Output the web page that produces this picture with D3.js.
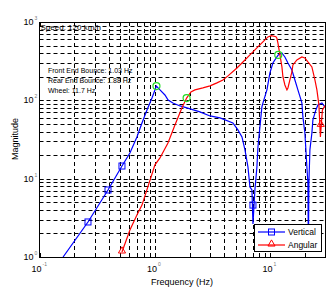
<!DOCTYPE html>
<html>
<head>
<meta charset="utf-8">
<script src="https://cdn.jsdelivr.net/npm/d3@7"></script>
<style>
  body { margin: 0; background: #fff; }
  text { font-family: "Liberation Sans", Arial, sans-serif; }
</style>
</head>
<body>
<div id="chart"></div>
<script>
// vertical response (Hz, magnitude)
const vertFreq = [0.16, 0.263, 0.392, 0.518, 0.607, 0.698, 0.772, 0.853, 0.942, 1.03, 1.105, 1.22, 1.30, 1.43, 1.65, 1.89,
  2.45, 3.0, 3.66, 4.73, 5.23, 5.67, 6.02, 6.39, 6.65, 6.92, 7.06, 7.34, 7.64, 7.80, 8.11, 8.44, 8.61,
  9.33, 9.90, 10.51, 11.38, 11.7, 12.58, 13.35, 14.18, 15.35, 16.30, 17.30, 18.73, 19.11, 19.89, 20.70,
  21.12, 21.33, 21.54, 21.98, 22.87, 23.33, 24.77, 25.78, 27.92, 29.64, 30];
const vertMag = [1.0, 2.8, 7.17, 14.5, 21.3, 34.1, 51.4, 75.4, 107, 152, 136, 117, 101, 92.6, 84.8, 80,
  71.1, 63.2, 59.6, 51.4, 41.9, 34.1, 23.3, 14.1, 7.83, 7.17, 2.64, 7.17, 14.1, 25.4, 45.7, 82.4, 92,
  136, 224, 300, 358, 380, 403, 358, 300, 244, 182, 136, 92.6, 61.4, 38.3, 14.1,
  8.81, 1.2, 8.81, 23.3, 38.3, 56.2, 75.4, 87.4, 92.6, 82.4, 80];

// angular response
const angFreq = [0.518, 0.607, 0.698, 0.772, 1.0, 1.105, 1.296, 1.49, 1.71, 1.88, 2.05, 2.22, 2.60, 3.0, 3.44, 3.88,
  4.29, 5.13, 5.78, 6.65, 7.64, 8.61, 9.52, 10.2, 11.16, 11.38, 11.61, 12.09, 12.58, 12.83, 13.35, 13.90,
  14.18, 14.75, 15.35, 15.66, 16.96, 18.73, 19.89, 21.12, 22.87, 24.29, 25.27, 26.3, 27.1, 28.2, 29.64, 30];
const angMag = [1.16, 2.21, 3.44, 4.6, 15.0, 18.4, 28.6, 48.5, 80, 107, 128, 136, 144, 153, 167, 182,
  205, 259, 309, 380, 467, 557, 645, 670, 650, 620, 540, 380, 267, 200, 157, 136,
  144, 182, 230, 283, 328, 358, 348, 309, 267, 182, 136, 87.4, 34.1, 75.4, 85, 86];

// marker points
const vertMarkFreq = [0.263, 0.392, 0.518, 7.06];
const vertMarkMag = [2.8, 7.17, 14.5, 4.6];
const angMarkFreq = [0.518, 27.3];
const angMarkMag = [1.16, 48];

// resonance points (green circles)
const peakFreq = [1.03, 1.88, 11.7];
const peakMag = [152, 107, 380];

const notes = ["Front End Bounce: 1.03 Hz", "Rear End Bounce: 1.88 Hz", "Wheel: 11.7 Hz"];
const speedLabel = "Speed: 120 km/h";
const xTickExp = [-1, 0, 1];
const yTickExp = [0, 1, 2, 3];
const seriesNames = ["Vertical", "Angular"];

const width = 330, height = 288;
const m = { left: 39.5, right: 325.5, top: 22, bottom: 257 };

const svg = d3.select("#chart").append("svg")
  .attr("width", width)
  .attr("height", height);

const x = d3.scaleLog().domain([0.1, 30]).range([m.left, m.right]);
const y = d3.scaleLog().domain([1, 1000]).range([m.bottom, m.top]);

const px = v => Math.round(x(v)) + 0.5;
const py = v => Math.round(y(v)) + 0.5;

// grid
const xGrid = [];
[0.1, 1, 10].forEach(d => { for (let k = 1; k <= 9; k++) if (d * k <= 30) xGrid.push(d * k); });
const yGrid = [];
[1, 10, 100].forEach(d => { for (let k = 1; k <= 9; k++) yGrid.push(d * k); });

const grid = svg.append("g")
  .attr("stroke", "#000")
  .attr("stroke-width", 1)
  .attr("stroke-dasharray", "4,3");

grid.selectAll("line.gx").data(xGrid.filter(v => v > 0.1 && v < 30)).join("line")
  .attr("x1", px).attr("x2", px)
  .attr("y1", m.top).attr("y2", m.bottom);

grid.selectAll("line.gy").data(yGrid.filter(v => v > 1 && v < 1000)).join("line")
  .attr("x1", m.left).attr("x2", m.right)
  .attr("y1", py).attr("y2", py);

// curves
svg.append("clipPath").attr("id", "clip")
  .append("rect").attr("x", m.left).attr("y", m.top)
  .attr("width", m.right - m.left).attr("height", m.bottom - m.top);

const line = d3.line()
  .x(d => x(d[0]))
  .y(d => y(d[1]));

svg.append("path")
  .datum(d3.zip(vertFreq, vertMag))
  .attr("clip-path", "url(#clip)")
  .attr("fill", "none")
  .attr("stroke", "#0000ff")
  .attr("stroke-width", 1.2)
  .attr("d", line);

svg.append("path")
  .datum(d3.zip(angFreq, angMag))
  .attr("clip-path", "url(#clip)")
  .attr("fill", "none")
  .attr("stroke", "#ff0000")
  .attr("stroke-width", 1.2)
  .attr("d", line);

svg.selectAll("rect.vm").data(d3.zip(vertMarkFreq, vertMarkMag)).join("rect")
  .attr("x", d => x(d[0]) - 3)
  .attr("y", d => y(d[1]) - 3)
  .attr("width", 6).attr("height", 6)
  .attr("fill", "none")
  .attr("stroke", "#0000ff");

const tri = d3.symbol().type(d3.symbolTriangle).size(22);
svg.selectAll("path.am").data(d3.zip(angMarkFreq, angMarkMag)).join("path")
  .attr("transform", d => `translate(${x(d[0])},${y(d[1]) - 1})`)
  .attr("d", tri)
  .attr("fill", "none")
  .attr("stroke", "#ff0000");

svg.selectAll("circle.pk").data(d3.zip(peakFreq, peakMag)).join("circle")
  .attr("cx", d => x(d[0]))
  .attr("cy", d => y(d[1]))
  .attr("r", 3.5)
  .attr("fill", "none")
  .attr("stroke", "#22dd22")
  .attr("stroke-width", 1.2);

// box and ticks
svg.append("rect")
  .attr("x", m.left).attr("y", m.top + 0.5)
  .attr("width", m.right - m.left).attr("height", m.bottom - m.top)
  .attr("fill", "none").attr("stroke", "#000");

const ticks = svg.append("g").attr("stroke", "#000");
xTickExp.forEach(e => {
  const xv = px(Math.pow(10, e));
  ticks.append("line").attr("x1", xv).attr("x2", xv).attr("y1", m.bottom).attr("y2", m.bottom - 4);
  ticks.append("line").attr("x1", xv).attr("x2", xv).attr("y1", m.top).attr("y2", m.top + 4);
});
yTickExp.forEach(e => {
  const yv = py(Math.pow(10, e));
  ticks.append("line").attr("x1", m.left).attr("x2", m.left + 4).attr("y1", yv).attr("y2", yv);
  ticks.append("line").attr("x1", m.right).attr("x2", m.right - 4).attr("y1", yv).attr("y2", yv);
});

// tick labels
yTickExp.forEach(e => {
  const yv = y(Math.pow(10, e));
  svg.append("text").attr("x", 33.5).attr("y", yv + 3)
    .attr("text-anchor", "end").attr("font-size", 9).text("10");
  svg.append("text").attr("x", 34.5).attr("y", yv - 2)
    .attr("font-size", 5).attr("fill", "#777").text(e);
});
xTickExp.forEach(e => {
  const xv = x(Math.pow(10, e));
  svg.append("text").attr("x", xv + 2).attr("y", 272)
    .attr("text-anchor", "end").attr("font-size", 9).text("10");
  svg.append("text").attr("x", xv + 3).attr("y", 266)
    .attr("font-size", 5).attr("fill", "#777").text(e);
});

// axis titles
svg.append("text")
  .attr("x", 182).attr("y", 285)
  .attr("text-anchor", "middle").attr("font-size", 9)
  .text("Frequency (Hz)");

svg.append("text")
  .attr("transform", "translate(18,139) rotate(-90)")
  .attr("text-anchor", "middle").attr("font-size", 9)
  .text("Magnitude");

// annotations
svg.append("text").attr("x", 40.5).attr("y", 29.5)
  .attr("font-size", 8).text(speedLabel);
notes.forEach((t, i) => {
  svg.append("text").attr("x", 48).attr("y", 73 + i * 10)
    .attr("font-size", 7).text(t);
});

// legend
const lg = svg.append("g");
lg.append("rect")
  .attr("x", 254.5).attr("y", 224.5)
  .attr("width", 67).attr("height", 27)
  .attr("fill", "#fff").attr("stroke", "#000");

const colors = ["#0000ff", "#ff0000"];
seriesNames.forEach((name, i) => {
  const ly = 232 + i * 13;
  lg.append("line")
    .attr("x1", 258).attr("x2", 285).attr("y1", ly).attr("y2", ly)
    .attr("stroke", colors[i]).attr("stroke-width", 1.2);
  if (i === 0) {
    lg.append("rect").attr("x", 268.5).attr("y", ly - 3)
      .attr("width", 6).attr("height", 6)
      .attr("fill", "none").attr("stroke", colors[i]);
  } else {
    lg.append("path").attr("transform", `translate(271.5,${ly - 1})`)
      .attr("d", tri).attr("fill", "none").attr("stroke", colors[i]);
  }
  lg.append("text").attr("x", 288).attr("y", ly + 3)
    .attr("font-size", 8.5).text(name);
});
</script>
</body>
</html>
